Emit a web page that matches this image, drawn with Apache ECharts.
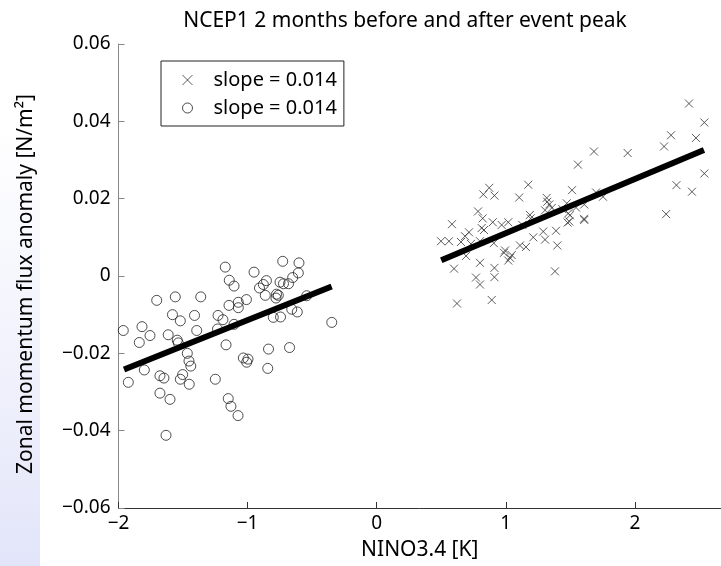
<!DOCTYPE html>
<html>
<head>
<meta charset="utf-8">
<title>NCEP1</title>
<script src="https://cdn.jsdelivr.net/npm/echarts@6.0.0/dist/echarts.min.js"></script>
<style>
	html, body { margin: 0; padding: 0; background: #fff; }
	.chart { width: 721px; height: 566px; }
</style>
</head>
<body>
<div class="chart"></div>
<script>
// 数据
// 事件峰值之后 (x 标记)
const ninoX = [2.419, 2.538, 2.280, 2.226, 2.473, 1.683, 1.944, 1.559, 2.538, 2.322, 2.442, 2.242,
	1.174, 0.872, 0.826, 0.912, 1.104, 1.513, 1.317, 1.321, 1.337, 1.356, 1.304, 1.472, 1.438, 1.544,
	1.699, 1.753, 1.608, 1.187, 1.193, 1.484, 1.497, 1.492, 1.479, 1.606, 1.608, 0.821, 0.813, 0.831,
	0.899, 0.968, 1.019, 1.128, 0.907, 1.213, 1.290, 1.304, 1.389, 1.110, 1.156, 0.994, 0.986, 1.046,
	1.033, 1.019, 1.399, 0.912, 0.912, 1.381, 0.891,
	0.800, 0.800, 0.800, 0.498, 0.560, 0.583, 0.599, 0.622, 0.653, 0.684, 0.715, 0.730, 0.692, 0.769, 0.785];
const ninoY = [0.0446, 0.0397, 0.0364, 0.0335, 0.0357, 0.0322, 0.0318, 0.0288, 0.0265, 0.0235, 0.0218, 0.0160,
	0.0236, 0.0228, 0.0211, 0.0208, 0.0203, 0.0222, 0.0202, 0.0192, 0.0185, 0.0176, 0.0170, 0.0188, 0.0173, 0.0177,
	0.0216, 0.0205, 0.0185, 0.0158, 0.0149, 0.0162, 0.0157, 0.0141, 0.0138, 0.0148, 0.0145, 0.0149, 0.0124, 0.0119,
	0.0139, 0.0132, 0.0139, 0.0132, 0.0085, 0.0100, 0.0115, 0.0094, 0.0117, 0.0079, 0.0075, 0.0066, 0.0060, 0.0054,
	0.0047, 0.0040, 0.0079, 0.0021, -0.0003, 0.0012, -0.0062,
	0.0090, 0.0034, -0.0022, 0.0090, 0.0090, 0.0134, 0.0019, -0.0071, 0.0088, 0.0103, 0.0113, 0.0083, 0.0052, -0.0004, 0.0167];
// 事件峰值之前 (圆圈)
const ninaX = [-1.963, -1.924, -1.839, -1.818, -1.800, -1.756, -1.704, -1.679, -1.648, -1.679, -1.601, -1.632,
	-1.615, -1.582, -1.560, -1.545, -1.537, -1.521, -1.467, -1.454, -1.440, -1.503, -1.521, -1.452, -1.411,
	-1.394, -1.363, -1.250, -1.229, -1.233, -1.191, -1.173, -1.167, -1.142, -1.144, -1.105, -1.105, -1.072,
	-1.072, -1.009, -1.033, -0.997, -1.007, -1.150, -1.129, -1.074, -0.950, -0.908, -0.878, -0.854, -0.863,
	-0.838, -0.844, -0.801, -0.776, -0.762, -0.780, -0.745, -0.749, -0.728, -0.722, -0.683, -0.651, -0.658,
	-0.675, -0.615, -0.607, -0.602, -0.542, -0.348];
const ninaY = [-0.0141, -0.0275, -0.0172, -0.0131, -0.0243, -0.0154, -0.0063, -0.0258, -0.0264, -0.0303, -0.0319, -0.0412,
	-0.0152, -0.0100, -0.0054, -0.0166, -0.0173, -0.0116, -0.0200, -0.0220, -0.0233, -0.0255, -0.0267, -0.0280, -0.0102,
	-0.0141, -0.0054, -0.0267, -0.0102, -0.0137, -0.0113, 0.0023, -0.0178, -0.0011, -0.0076, -0.0026, -0.0125, -0.0068,
	-0.0082, -0.0061, -0.0212, -0.0215, -0.0223, -0.0317, -0.0337, -0.0361, 0.0010, -0.0031, -0.0022, -0.0012, -0.0050,
	-0.0189, -0.0239, -0.0107, -0.0047, -0.0050, -0.0057, -0.0106, -0.0016, 0.0038, -0.0020, -0.0020, -0.0004, -0.0086,
	-0.0185, -0.0093, 0.0008, 0.0034, -0.0051, -0.0120];
// 回归线端点
const ninoFitX = [0.50, 2.535];
const ninoFitY = [0.0041, 0.0326];
const ninaFitX = [-1.957, -0.349];
const ninaFitY = [-0.0242, -0.0027];
// 刻度
const xTicks = [-2, -1, 0, 1, 2];
const yTicks = [-0.06, -0.04, -0.02, 0, 0.02, 0.04, 0.06];
const legendLabels = ['slope = 0.014', 'slope = 0.014'];

(function () {
	const font = 'Noto Sans';
	const crossPath = 'path://M0,0L10,10M10,0L0,10';
	const zip = (xs, ys) => xs.map((x, i) => [x, ys[i]]);
	const minus = v => (v < 0 ? '\u2212' : '') + Math.abs(v);
	let myChart = echarts.init(document.querySelector('.chart'));
	const option = {
		animation: false,
		backgroundColor: '#fff',
		title: {
			text: 'NCEP1 2 months before and after event peak',
			left: 405,
			top: 11,
			padding: 0,
			textAlign: 'center',
			textStyle: { fontFamily: font, fontSize: 21, fontWeight: 'normal', color: '#000' }
		},
		// 左侧淡紫色背景
		graphic: [{
			type: 'rect',
			z: -10,
			shape: { x: 0, y: 120, width: 40, height: 446 },
			style: {
				fill: new echarts.graphic.LinearGradient(0, 0, 0, 1, [
					{ offset: 0, color: 'rgba(230,232,249,0)' },
					{ offset: 1, color: 'rgba(226,229,249,1)' }
				])
			}
		}],
		legend: {
			orient: 'vertical',
			left: 161,
			top: 61,
			padding: [9, 7, 8, 19],
			itemWidth: 42,
			itemHeight: 10,
			itemGap: 8,
			selectedMode: false,
			borderColor: '#222',
			borderWidth: 1,
			borderRadius: 0,
			backgroundColor: '#fff',
			data: [
				{ name: 'nino', icon: crossPath, itemStyle: { color: 'none', borderColor: '#333', borderWidth: 1 } },
				{ name: 'nina', icon: 'circle', itemStyle: { color: 'none', borderColor: '#222', borderWidth: 1 } }
			],
			formatter: function (name) {
				return name === 'nino' ? legendLabels[0] : legendLabels[1];
			},
			textStyle: { fontFamily: font, fontSize: 20, color: '#000' }
		},
		grid: {
			left: 118.5,
			right: 0,
			top: 44,
			bottom: 54,
			containLabel: false
		},
		xAxis: {
			type: 'value',
			min: -2,
			max: 2.667,
			interval: 1,
			name: 'NINO3.4 [K]',
			nameLocation: 'middle',
			nameGap: 32,
			nameTextStyle: { fontFamily: font, fontSize: 21, color: '#000' },
			axisLine: { show: true, onZero: false, lineStyle: { color: '#333', width: 1 } },
			axisTick: { show: true, inside: true, length: 6, customValues: xTicks, lineStyle: { color: '#333' } },
			axisLabel: {
				customValues: xTicks,
				margin: 6,
				fontFamily: font,
				fontSize: 19,
				color: '#000',
				formatter: minus
			},
			splitLine: { show: false }
		},
		yAxis: {
			type: 'value',
			min: -0.06,
			max: 0.06,
			interval: 0.02,
			name: 'Zonal momentum flux anomaly [N/m²]',
			nameLocation: 'middle',
			nameGap: 82,
			nameRotate: 90,
			nameTextStyle: { fontFamily: font, fontSize: 21, color: '#000', padding: [0, 16, 0, 0] },
			axisLine: { show: true, onZero: false, lineStyle: { color: '#888', width: 1 } },
			axisTick: { show: true, inside: true, length: 6, customValues: yTicks, lineStyle: { color: '#888' } },
			axisLabel: {
				customValues: yTicks,
				margin: 8,
				fontFamily: font,
				fontSize: 19,
				color: '#000',
				formatter: function (v) {
					return v === 0 ? '0' : (v < 0 ? '\u2212' : '') + Math.abs(v).toFixed(2);
				}
			},
			splitLine: { show: false }
		},
		series: [
			{
				name: 'nino',
				type: 'scatter',
				data: zip(ninoX, ninoY),
				symbol: crossPath,
				symbolSize: 8,
				itemStyle: { color: 'none', borderColor: '#333', borderWidth: 1 },
				z: 2
			},
			{
				name: 'nina',
				type: 'scatter',
				data: zip(ninaX, ninaY),
				symbol: 'circle',
				symbolSize: 10,
				itemStyle: { color: 'none', borderColor: '#222', borderWidth: 1 },
				z: 2
			},
			{
				name: 'ninoFit',
				type: 'line',
				data: zip(ninoFitX, ninoFitY),
				symbol: 'none',
				silent: true,
				lineStyle: { color: '#000', width: 6 },
				z: 3
			},
			{
				name: 'ninaFit',
				type: 'line',
				data: zip(ninaFitX, ninaFitY),
				symbol: 'none',
				silent: true,
				lineStyle: { color: '#000', width: 6 },
				z: 3
			}
		]
	};
	myChart.setOption(option);
	window.addEventListener('resize', function () {
		myChart.resize();
	});
})();
</script>
</body>
</html>
